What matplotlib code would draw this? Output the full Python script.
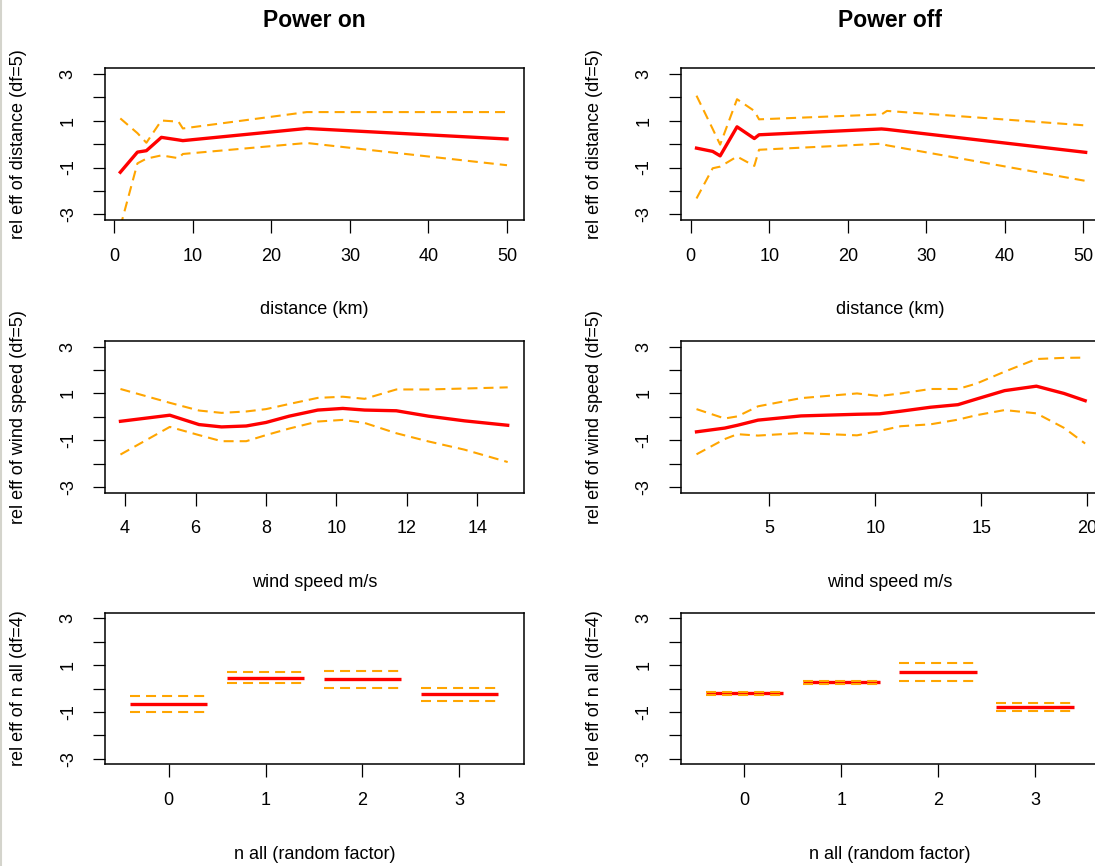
import numpy as np
import matplotlib.pyplot as plt
from matplotlib.lines import Line2D

plt.rcParams['font.family'] = ['Liberation Sans', 'DejaVu Sans']

# ---- data ----
# distance effect, power on
dist_on = [0.77, 2.95, 4.09, 6.0, 8.18, 8.73, 24.5, 50.0]
dist_on_fit = [-1.2, -0.34, -0.28, 0.29, 0.18, 0.15, 0.67, 0.22]
dist_on_hi = [1.1, 0.47, 0.06, 1.01, 0.96, 0.67, 1.37, 1.37]
dist_on_lo = [-3.53, -0.82, -0.62, -0.48, -0.6, -0.42, 0.05, -0.9]

# distance effect, power off
dist_off = [0.74, 2.8, 3.75, 5.9, 8.1, 8.7, 24.3, 25.0, 50.3]
dist_off_fit = [-0.17, -0.31, -0.5, 0.74, 0.24, 0.4, 0.65, 0.63, -0.35]
dist_off_hi = [2.07, 0.65, -0.02, 1.92, 1.42, 1.06, 1.27, 1.42, 0.8]
dist_off_lo = [-2.32, -1.03, -0.96, -0.53, -0.93, -0.24, 0.02, -0.05, -1.57]

# wind speed effect, power on
wind_on = [3.87, 5.27, 6.1, 6.74, 7.44, 8.0, 8.66, 9.47, 10.18, 10.8, 11.7, 12.61, 13.63, 14.86]
wind_on_fit = [-0.19, 0.07, -0.33, -0.43, -0.39, -0.24, 0.03, 0.29, 0.36, 0.29, 0.26, 0.03, -0.17, -0.36]
wind_on_hi = [1.19, 0.6, 0.27, 0.17, 0.23, 0.33, 0.55, 0.81, 0.86, 0.77, 1.17, 1.17, 1.21, 1.26]
wind_on_lo = [-1.61, -0.43, -0.78, -1.04, -1.04, -0.78, -0.5, -0.2, -0.13, -0.26, -0.7, -1.05, -1.4, -1.93]

# wind speed effect, power off
wind_off = [1.57, 2.9, 3.5, 4.47, 6.5, 9.14, 10.2, 11.2, 12.6, 13.9, 14.77, 16.1, 17.6, 18.9, 19.9]
wind_off_fit = [-0.64, -0.48, -0.36, -0.14, 0.04, 0.11, 0.13, 0.24, 0.41, 0.52, 0.76, 1.12, 1.31, 1.0, 0.69]
wind_off_hi = [0.33, -0.07, 0.02, 0.45, 0.8, 1.0, 0.89, 1.0, 1.19, 1.19, 1.42, 1.93, 2.47, 2.52, 2.53]
wind_off_lo = [-1.6, -0.95, -0.74, -0.8, -0.69, -0.79, -0.6, -0.4, -0.32, -0.12, 0.07, 0.29, 0.15, -0.47, -1.14]

# n all (random factor)
n_levels = [0, 1, 2, 3]
n_on_fit = [-0.64, 0.46, 0.39, -0.24]
n_on_hi = [-0.3, 0.7, 0.73, 0.04]
n_on_lo = [-0.99, 0.24, 0.04, -0.53]
n_off_fit = [-0.21, 0.26, 0.71, -0.8]
n_off_hi = [-0.13, 0.34, 1.1, -0.63]
n_off_lo = [-0.29, 0.18, 0.31, -0.95]

titles = ['Power on', 'Power off']
xlabels = ['distance (km)', 'wind speed m/s', 'n all (random factor)']
ylabels = ['rel eff of distance (df=5)', 'rel eff of wind speed (df=5)',
           'rel eff of n all (df=4)']

# ---- layout (pixels of the 1095x866 image) ----
W, H = 1095, 866
col_x = [104.6, 680.5]
ax_w = 419.3
row_top = [68.3, 341.0, 612.7]
ax_h = 151.7

RED = '#FF0000'
ORANGE = '#FFA500'
DASH = (0, (4.8, 2.9))

fig = plt.figure(figsize=(W / 100, H / 100), dpi=100)
fig.patch.set_facecolor('white')


def add_panel(col, row):
    x0, y0 = col_x[col], row_top[row]
    return fig.add_axes([x0 / W, 1 - (y0 + ax_h) / H, ax_w / W, ax_h / H])


def r_style(ax, xlim, xticks, xlabel, ylabel):
    ax.set_xlim(xlim)
    ax.set_ylim(-3.24, 3.24)
    ax.set_xticks(xticks)
    ax.set_xticklabels([str(t) for t in xticks])
    ax.set_yticks(range(-3, 4))
    ax.set_yticklabels(['-3', '', '-1', '', '1', '', '3'], rotation=90, va='center')
    ax.tick_params(direction='out', length=9, width=0.9, labelsize=13, pad=11)
    for s in ax.spines.values():
        s.set_linewidth(1.1)
    ax.set_xlabel(xlabel, fontsize=13, va='center')
    ax.xaxis.set_label_coords(0.5, -90 / ax_h)
    ax.set_ylabel(ylabel, fontsize=13, va='center')
    ax.yaxis.set_label_coords(-86 / ax_w, 0.5)


# term line first, then the dashed se bands on top (termplot order)
def smooth_panel(ax, x, fit, hi, lo):
    ax.plot(x, fit, color=RED, lw=2.4)
    ax.plot(x, hi, color=ORANGE, lw=1.5, ls=DASH)
    ax.plot(x, lo, color=ORANGE, lw=1.5, ls=DASH)


def factor_panel(ax, lev, fit, hi, lo):
    lev = np.asarray(lev)
    ax.hlines(fit, lev - 0.4, lev + 0.4, color=RED, lw=2.4)
    ax.hlines(hi, lev - 0.4, lev + 0.4, color=ORANGE, lw=1.5, linestyles=DASH)
    ax.hlines(lo, lev - 0.4, lev + 0.4, color=ORANGE, lw=1.5, linestyles=DASH)


panels = [
    [(dist_on, dist_on_fit, dist_on_hi, dist_on_lo),
     (dist_off, dist_off_fit, dist_off_hi, dist_off_lo)],
    [(wind_on, wind_on_fit, wind_on_hi, wind_on_lo),
     (wind_off, wind_off_fit, wind_off_hi, wind_off_lo)],
    [(n_levels, n_on_fit, n_on_hi, n_on_lo),
     (n_levels, n_off_fit, n_off_hi, n_off_lo)],
]

xlims = [[(-1.23, 52.15), (-1.3, 52.1)],
         [(3.42, 15.32), (0.815, 20.59)],
         [(-0.66, 3.665), (-0.66, 3.668)]]
xticks = [[[0, 10, 20, 30, 40, 50], [0, 10, 20, 30, 40, 50]],
          [[4, 6, 8, 10, 12, 14], [5, 10, 15, 20]],
          [[0, 1, 2, 3], [0, 1, 2, 3]]]

for row in range(3):
    for col in range(2):
        ax = add_panel(col, row)
        x, fit, hi, lo = panels[row][col]
        if row < 2:
            smooth_panel(ax, x, fit, hi, lo)
        else:
            factor_panel(ax, x, fit, hi, lo)
        r_style(ax, xlims[row][col], xticks[row][col], xlabels[row], ylabels[row])
        if row == 0:
            ax.set_title(titles[col], fontsize=16.5, fontweight='bold', pad=30)

# thin grey border on the left edge of the screenshot
fig.add_artist(Line2D([0.8 / W, 0.8 / W], [0, 1], transform=fig.transFigure,
                      color='#d4d4cc', lw=1.5))

fig.savefig('out.png', dpi=100)
